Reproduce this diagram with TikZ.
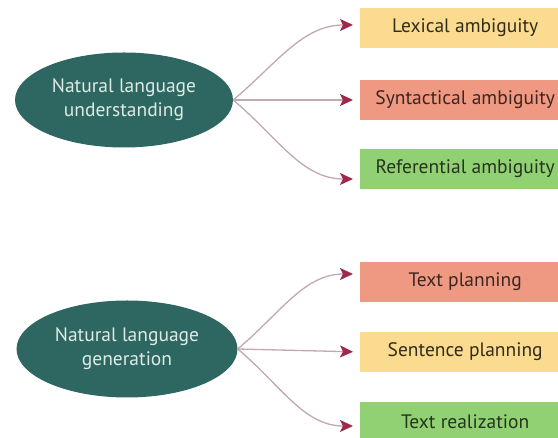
\documentclass[tikz,border=0pt]{standalone}
\usepackage{fontspec}
\setmainfont{PT Sans}
\usepackage{xcolor}
\usetikzlibrary{
	arrows.meta,
	shapes,
}
\definecolor{bubble}{rgb}{0.18, 0.40, 0.38}
\definecolor{bubbletext}{rgb}{0.87, 0.92, 0.90}
\definecolor{lexyellow}{rgb}{0.98, 0.86, 0.56}
\definecolor{synsalmon}{rgb}{0.94, 0.60, 0.51}
\definecolor{refgreen}{rgb}{0.57, 0.82, 0.45}
\definecolor{connline}{rgb}{0.76, 0.66, 0.69}
\definecolor{tipred}{rgb}{0.62, 0.16, 0.29}

\begin{document}
\begin{tikzpicture}[x=1pt, y=1pt, font=\fontsize{19.5}{24}\selectfont,
	topic/.style={ellipse, fill=bubble, text=bubbletext, align=center, inner sep=0pt, minimum width=218pt, minimum height=95pt},
	kind/.style={rectangle, anchor=west, inner sep=0pt, minimum width=210pt, minimum height=40pt},
	conn/.style={draw=connline, line width=1.3pt, shorten >=7pt, -{Stealth[length=13pt, width=12pt, inset=3pt, color=tipred]}}]
\useasboundingbox (0,0) rectangle (558,438);
\clip (0,0) rectangle (558,438);

% understanding
\node[topic] (nlu) at (124,338) {Natural language\\understanding};
\node[kind, fill=lexyellow, text=lexyellow!20!black] (lex) at (360,410) {Lexical ambiguity};
\node[kind, fill=synsalmon, text=synsalmon!25!black] (syn) at (360,338) {Syntactical ambiguity};
\node[kind, fill=refgreen, text=refgreen!25!black] (ref) at (360,269) {Referential ambiguity};

\draw[conn] (nlu.east) to[out=40, in=180] ([yshift=3pt]lex.west);
\draw[conn] (nlu.east) -- (syn.west);
\draw[conn] (nlu.east) to[out=-40, in=180] ([yshift=-10pt]ref.west);

% generation
\node[topic, minimum width=221pt, minimum height=97pt] (nlg) at (127,89) {Natural language\\generation};
\node[kind, fill=synsalmon, text=synsalmon!25!black] (tpl) at (360,156) {Text planning};
\node[kind, fill=lexyellow, text=lexyellow!20!black] (spl) at (360,86) {Sentence planning};
\node[kind, fill=refgreen, text=refgreen!25!black] (trl) at (360,16) {Text realization};

\draw[conn] (nlg.east) to[out=40, in=180] ([yshift=8pt]tpl.west);
\draw[conn] (nlg.east) -- (spl.west);
\draw[conn] (nlg.east) to[out=-40, in=180] ([yshift=-4pt]trl.west);

\end{tikzpicture}
\end{document}
